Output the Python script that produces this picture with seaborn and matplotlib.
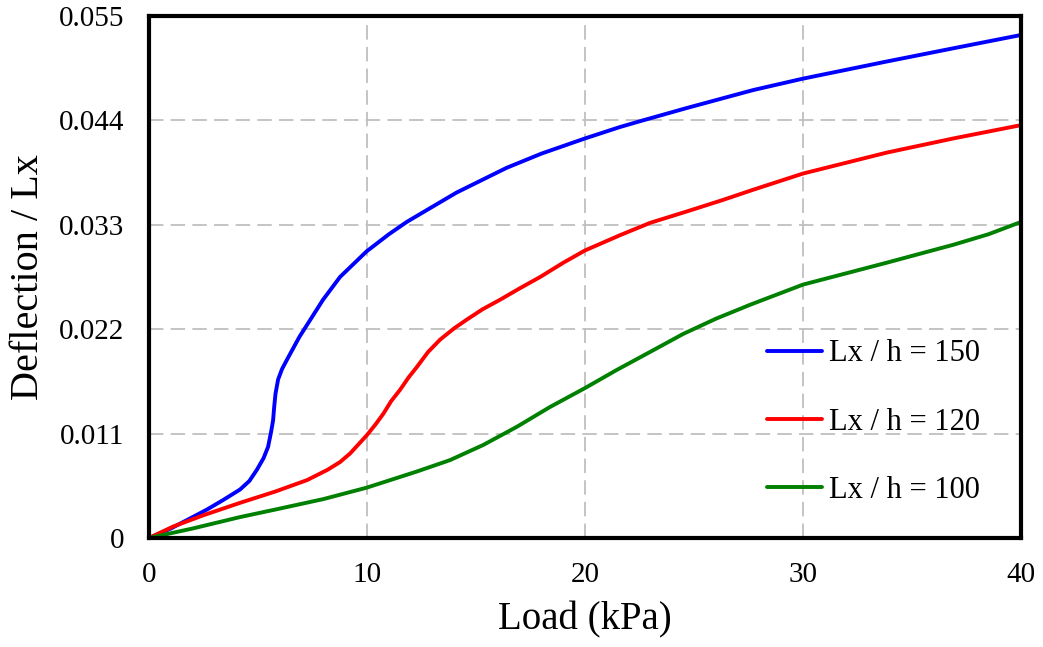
import matplotlib
matplotlib.use("Agg")
import matplotlib.pyplot as plt
import seaborn as sns
import pandas as pd

# Data
load_150 = [0, 1.0, 2.0, 2.66, 3.4, 4.17, 4.6, 4.95, 5.25, 5.46, 5.6, 5.69, 5.74, 5.8, 5.92, 6.1, 6.33,
            6.9, 7.98, 8.76, 9.98, 11.0, 11.82, 13.0, 14.11, 16.4, 18.0, 20, 21.6, 22.5, 24.66,
            27.72, 30, 33.83, 36.9, 40]
defl_150 = [0, 0.0010, 0.0022, 0.0030, 0.0040, 0.0051, 0.0060, 0.0072, 0.0084, 0.0096, 0.0112, 0.0124,
            0.0138, 0.0152, 0.0167, 0.0178, 0.0188, 0.0212, 0.0251, 0.0275, 0.0302, 0.0320, 0.0333,
            0.0349, 0.0364, 0.0390, 0.0405, 0.0421, 0.0433, 0.0439, 0.0453, 0.0472, 0.0484, 0.0502,
            0.0516, 0.0530]

load_120 = [0, 1.1, 2.5, 4.17, 5.8, 7.25, 8.2, 8.76, 9.22, 9.98, 10.4, 10.75, 11.1, 11.51, 11.9, 12.28,
            12.8, 13.35, 14.0, 14.57, 15.3, 16.1, 17.0, 17.94, 19.0, 20, 21.6, 22.98, 24.66, 26.3,
            27.72, 30, 33.83, 36.9, 40]
defl_120 = [0, 0.0012, 0.0024, 0.0037, 0.0049, 0.0061, 0.0072, 0.0080, 0.0089, 0.0108, 0.0120, 0.0131,
            0.0144, 0.0156, 0.0169, 0.0180, 0.0196, 0.0209, 0.0221, 0.0230, 0.0241, 0.0251, 0.0263,
            0.0275, 0.0290, 0.0303, 0.0319, 0.0332, 0.0344, 0.0356, 0.0367, 0.0384, 0.0406, 0.0421,
            0.0435]

load_100 = [0, 2.0, 4.17, 6.0, 8.0, 9.98, 11.2, 12.28, 13.8, 15.33, 16.86, 18.39, 20, 21.45, 22.98,
            24.5, 26.0, 27.6, 30, 32.0, 33.83, 36.9, 38.5, 40]
defl_100 = [0, 0.0010, 0.0022, 0.0031, 0.0041, 0.0053, 0.0062, 0.0070, 0.0082, 0.0098, 0.0117, 0.0138,
            0.0158, 0.0177, 0.0196, 0.0215, 0.0231, 0.0246, 0.0267, 0.0279, 0.0290, 0.0309, 0.0320,
            0.0333]

series_labels = ["Lx / h = 150", "Lx / h = 120", "Lx / h = 100"]
series_colors = ["#0000ff", "#ff0000", "#008000"]

x_ticks = [0, 10, 20, 30, 40]
y_ticks = [0, 0.011, 0.022, 0.033, 0.044, 0.055]
y_tick_labels = ["0", "0.011", "0.022", "0.033", "0.044", "0.055"]

df = pd.concat([
    pd.DataFrame({"Load": load_150, "Defl": defl_150, "Series": series_labels[0]}),
    pd.DataFrame({"Load": load_120, "Defl": defl_120, "Series": series_labels[1]}),
    pd.DataFrame({"Load": load_100, "Defl": defl_100, "Series": series_labels[2]}),
])

sns.set_style("white")
plt.rcParams["font.family"] = ["Liberation Serif", "DejaVu Serif"]
plt.rcParams["text.color"] = "black"
plt.rcParams["axes.labelcolor"] = "black"
plt.rcParams["xtick.color"] = "black"
plt.rcParams["ytick.color"] = "black"

fig = plt.figure(figsize=(10.43, 6.47), dpi=100)
ax = fig.add_axes([0.1429, 0.1685, 0.979 - 0.1429, 0.9753 - 0.1685])

sns.lineplot(data=df, x="Load", y="Defl", hue="Series", hue_order=series_labels,
             palette=series_colors, linewidth=2.8, ax=ax, sort=False,
             estimator=None)

ax.set_xlim(0, 40)
ax.set_ylim(0, 0.055)
ax.set_xticks(x_ticks)
ax.set_yticks(y_ticks)
ax.set_yticklabels(y_tick_labels)
ax.tick_params(axis="x", labelsize=21, length=0, pad=17)
ax.tick_params(axis="y", labelsize=21, length=0, pad=18)
ax.grid(True, color="#bfbfbf", linestyle=(0, (8, 4)), linewidth=1.3)
ax.set_axisbelow(True)
for s in ax.spines.values():
    s.set_color("black")
    s.set_linewidth(3)

ax.set_xlabel("Load (kPa)", fontsize=28, labelpad=10)
ax.set_ylabel("Deflection / Lx", fontsize=29, labelpad=8)

leg = ax.legend(loc="center left", bbox_to_anchor=(752 / 1043, 1 - 422 / 647),
                bbox_transform=fig.transFigure, frameon=False, borderpad=0,
                fontsize=22, labelspacing=1.285, handlelength=1.8, handletextpad=0.22)
for line in leg.get_lines():
    line.set_linewidth(2.8)

fig.savefig("out.png", dpi=100)
